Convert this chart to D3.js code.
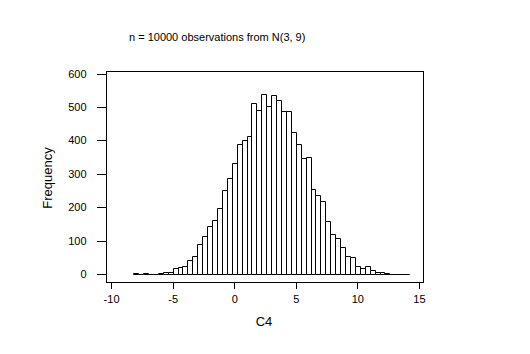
<!DOCTYPE html>
<html>
<head>
<meta charset="utf-8">
<script src="https://cdn.jsdelivr.net/npm/d3@7"></script>
<style>
  body { margin: 0; background: #fff; }
  text { font-family: "Liberation Sans", Arial, sans-serif; fill: #000; }
</style>
</head>
<body>
<div id="chart"></div>
<script>
// bin midpoints (width 0.4) and counts
const midpoints = d3.range(56).map(i => +(-8 + i * 0.4).toFixed(1))
const counts = [
  4, 0, 4, 1, 1, 4, 7, 7, 19, 22,
  25, 43, 55, 91, 115, 145, 163, 197, 251, 289,
  331, 389, 400, 412, 511, 490, 538, 502, 535, 520,
  487, 487, 424, 388, 346, 349, 254, 238, 220, 160,
  121, 109, 82, 55, 52, 25, 19, 25, 13, 5,
  5, 2, 1, 1, 1, 1
]
const binWidth = 0.4
const xTicks = [-10, -5, 0, 5, 10, 15]
const yTicks = [0, 100, 200, 300, 400, 500, 600]
const title = 'n = 10000 observations from N(3, 9)'
const xTitle = 'C4'
const yTitle = 'Frequency'

const fullWidth = 530, fullHeight = 354
const frame = { left: 106.5, right: 423.5, top: 71.5, bottom: 282.5 }

const svg = d3.select('#chart')
  .append('svg')
    .attr('width', fullWidth)
    .attr('height', fullHeight)

const xScale = d3.scaleLinear()
  .domain([-10.37, 15.37])
  .range([frame.left, frame.right])

const yScale = d3.scaleLinear()
  .domain([-25.6, 606.6])
  .range([frame.bottom, frame.top])

const data = midpoints.map((m, i) => ({ lo: m - binWidth / 2, hi: m + binWidth / 2, n: counts[i] }))

// bars as closed paths so that empty bins still show their outline
const px = v => Math.round(v) + 0.5
svg.append('g')
  .selectAll('path')
  .data(data)
  .enter()
  .append('path')
    .attr('d', d => {
      const x0 = px(xScale(d.lo)), x1 = px(xScale(d.hi))
      const y0 = px(yScale(0)), y1 = px(yScale(d.n))
      return `M${x0},${y0}V${y1}H${x1}V${y0}Z`
    })
    .attr('fill', '#fff')
    .attr('stroke', '#000')
    .attr('stroke-width', 1)

// frame
svg.append('rect')
  .attr('x', frame.left)
  .attr('y', frame.top)
  .attr('width', frame.right - frame.left)
  .attr('height', frame.bottom - frame.top)
  .attr('fill', 'none')
  .attr('stroke', '#000')
  .attr('stroke-width', 1)

svg.append('g')
  .attr('transform', `translate(0, ${frame.bottom})`)
  .call(d3.axisBottom(xScale).tickValues(xTicks).tickSize(6).tickPadding(7).tickFormat(d => String(d)))
  .call(plainAxis)

svg.append('g')
  .attr('transform', `translate(${frame.left}, 0)`)
  .call(d3.axisLeft(yScale).tickValues(yTicks).tickSize(10).tickPadding(10))
  .call(plainAxis)

svg.append('text')
  .attr('x', 129)
  .attr('y', 41)
  .attr('font-size', 11)
  .text(title)

svg.append('text')
  .attr('x', 264)
  .attr('y', 326)
  .attr('text-anchor', 'middle')
  .attr('font-size', 13)
  .text(xTitle)

svg.append('text')
  .attr('transform', 'translate(52, 178) rotate(-90)')
  .attr('text-anchor', 'middle')
  .attr('font-size', 13)
  .text(yTitle)

function plainAxis (g) {
  g.select('.domain').remove()
  g.selectAll('.tick line')
    .attr('stroke', '#000')
    .attr('shape-rendering', 'crispEdges')
  g.selectAll('.tick text')
    .attr('font-family', '"Liberation Sans", Arial, sans-serif')
    .attr('font-size', 11)
    .attr('fill', '#000')
}
</script>
</body>
</html>
